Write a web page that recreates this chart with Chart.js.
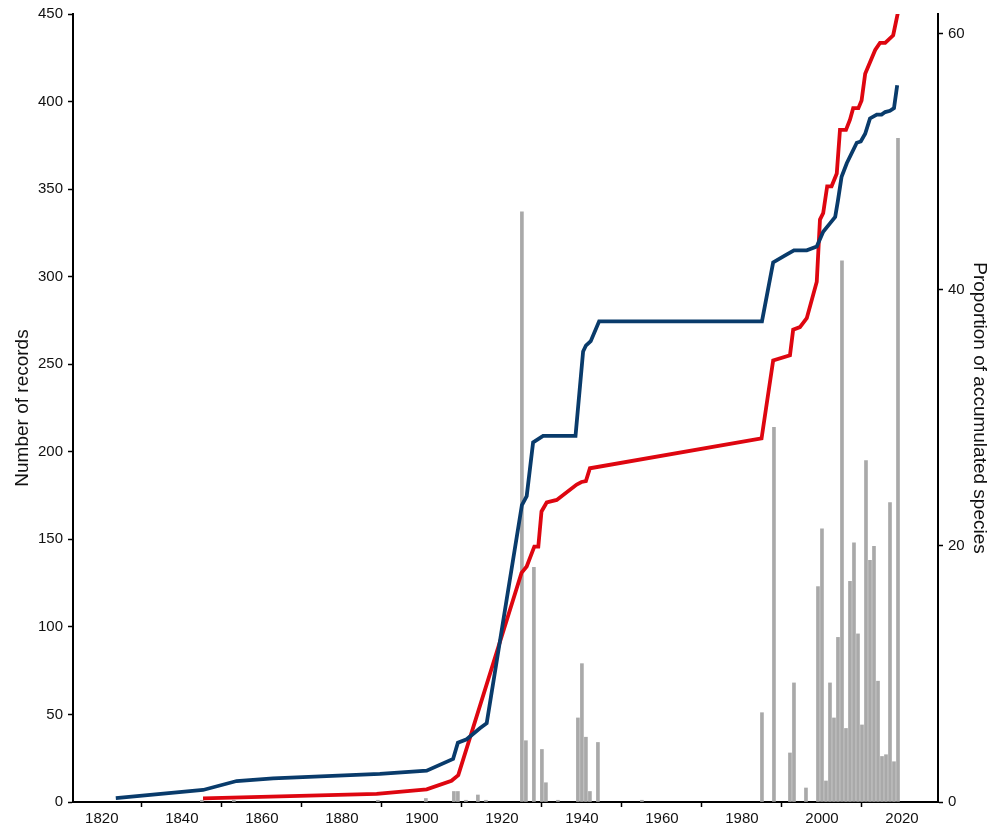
<!DOCTYPE html>
<html>
<head>
<meta charset="utf-8">
<script src="https://cdn.jsdelivr.net/npm/chart.js@4.4.0/dist/chart.umd.min.js"></script>
<style>
  html, body { margin: 0; padding: 0; background: #fff; }
  #wrap { width: 998px; height: 832px; position: relative; }
</style>
</head>
<body>
<div id="wrap"><canvas id="chart"></canvas></div>
<script>
// records per year (bars, left axis)
const barYears = [1845, 1853, 1889, 1901, 1908, 1909, 1911, 1914, 1916, 1925, 1926, 1928, 1930, 1931, 1934,
                  1939, 1940, 1941, 1942, 1944, 1955, 1985, 1988, 1992, 1993, 1996, 1999, 2000, 2001, 2002,
                  2003, 2004, 2005, 2006, 2007, 2008, 2009, 2010, 2011, 2012, 2013, 2014, 2015, 2016, 2017,
                  2018, 2019]
const barRecords = [1, 1, 1, 2, 6, 6, 1, 4, 1, 337, 35, 134, 30, 11, 1,
                    48, 79, 37, 6, 34, 1, 51, 214, 28, 68, 8, 123, 156, 12, 68,
                    48, 94, 309, 42, 126, 148, 96, 44, 195, 138, 146, 69, 26, 27, 171,
                    23, 379]

// accumulated species proportion (right axis)
const blueYears = [1823.5, 1845.3, 1853.7, 1862.8, 1889.5, 1901.2, 1907.8, 1909, 1911.2, 1914.5, 1916.2,
                   1925, 1926.2, 1927.8, 1930.3, 1938.4, 1940.3, 1941, 1942.2, 1944.3, 1985, 1987.8,
                   1990.8, 1993, 1996.2, 1998.7, 2000.3, 2002, 2003.3, 2004, 2004.9, 2006.2, 2008.7,
                   2009.7, 2010.8, 2012, 2013.7, 2014.9, 2015.8, 2017, 2018, 2018.8]
const blueValues = [0.3, 0.94, 1.64, 1.85, 2.19, 2.45, 3.36, 4.63, 4.9, 5.76, 6.15,
                    23.2, 23.9, 28.1, 28.6, 28.6, 35.2, 35.66, 36.0, 37.55, 37.55, 42.15,
                    42.7, 43.1, 43.1, 43.4, 44.55, 45.2, 45.7, 47.0, 48.85, 49.9, 51.5,
                    51.6, 52.2, 53.4, 53.7, 53.7, 53.9, 54.0, 54.2, 56.0]

const redYears = [1845.3, 1888.7, 1901.2, 1907.4, 1909.1, 1924.9, 1926.2, 1928.1, 1929.1, 1929.9, 1931.2,
                  1933.7, 1938.7, 1939.9, 1941, 1942, 1984.9, 1987.8, 1992, 1992.8, 1994.5, 1996.2,
                  1998.7, 1999.5, 2000.3, 2001.3, 2002.4, 2003.7, 2004.5, 2006, 2007, 2007.8, 2009.1,
                  2009.9, 2010.8, 2013.3, 2014.5, 2015.8, 2017.8, 2019]
const redValues = [0.29, 0.63, 0.99, 1.66, 2.1, 17.9, 18.4, 19.95, 19.95, 22.7, 23.4,
                   23.6, 24.8, 25.0, 25.07, 26.07, 28.4, 34.5, 34.9, 36.9, 37.1, 37.8,
                   40.65, 45.5, 46.0, 48.1, 48.1, 49.1, 52.5, 52.5, 53.3, 54.2, 54.2,
                   54.8, 56.9, 58.75, 59.3, 59.3, 59.9, 61.7]

const xTicks = [1820, 1840, 1860, 1880, 1900, 1920, 1940, 1960, 1980, 2000, 2020]
const rightTicks = [0, 20, 40, 60]

const pts = (xs, ys) => xs.map((x, i) => ({x: x, y: ys[i]}))

const tickFont = {family: "'Liberation Sans', Arial, sans-serif", size: 15}
const titleFont = {family: "'Liberation Sans', Arial, sans-serif", size: 19}
const plain = (v) => String(v)

let myChart = new Chart(document.querySelector("#chart"), {
    type: "bar",
    data: {
        datasets: [
            {
                type: "line",
                data: pts(blueYears, blueValues),
                borderColor: "#093b6b",
                borderWidth: 3.8,
                pointRadius: 0,
                tension: 0,
                yAxisID: "y1",
                order: 1,
            },
            {
                type: "line",
                data: pts(redYears, redValues),
                borderColor: "#de0610",
                borderWidth: 3.8,
                pointRadius: 0,
                tension: 0,
                yAxisID: "y1",
                order: 2,
            },
            {
                data: pts(barYears, barRecords),
                backgroundColor: "#a9a9a9",
                barThickness: 3,
                yAxisID: "y",
                order: 3,
            },
        ],
    },
    options: {
        responsive: true,
        maintainAspectRatio: false,
        animation: false,
        layout: {padding: {top: 14, left: 0, right: 0, bottom: 0}},
        plugins: {
            legend: {display: false},
            tooltip: {enabled: false},
        },
        scales: {
            x: {
                type: "linear",
                min: 1812.8,
                max: 2029,
                offset: false,
                afterFit: (s) => { s.height = 30 },
                afterBuildTicks: (s) => { s.ticks = xTicks.map(v => ({value: v})) },
                ticks: {font: tickFont, color: "#111", padding: 3, maxRotation: 0, includeBounds: false, callback: plain},
                grid: {drawOnChartArea: false, drawTicks: true, tickLength: 5, color: "#000", tickWidth: 1.5},
                border: {display: true, color: "#000", width: 2},
            },
            y: {
                position: "left",
                min: 0,
                max: 450,
                afterFit: (s) => { s.width = 73 },
                ticks: {stepSize: 50, font: tickFont, color: "#111", padding: 5, callback: plain},
                grid: {drawOnChartArea: false, drawTicks: true, tickLength: 5, color: "#000", tickWidth: 1.5},
                border: {display: true, color: "#000", width: 2},
                title: {display: true, text: "Number of records", font: titleFont, color: "#111", padding: {top: 11, bottom: 0}},
            },
            y1: {
                position: "right",
                min: 0,
                max: 61.56,
                afterFit: (s) => { s.width = 60 },
                afterBuildTicks: (s) => { s.ticks = rightTicks.map(v => ({value: v})) },
                ticks: {font: tickFont, color: "#111", padding: 5, includeBounds: false, callback: plain},
                grid: {drawOnChartArea: false, drawTicks: true, tickLength: 5, color: "#000", tickWidth: 1.5},
                border: {display: true, color: "#000", width: 2},
                title: {display: true, text: "Proportion of accumulated species", font: titleFont, color: "#111", padding: {top: 7, bottom: 0}},
            },
        },
    },
})
</script>
</body>
</html>
